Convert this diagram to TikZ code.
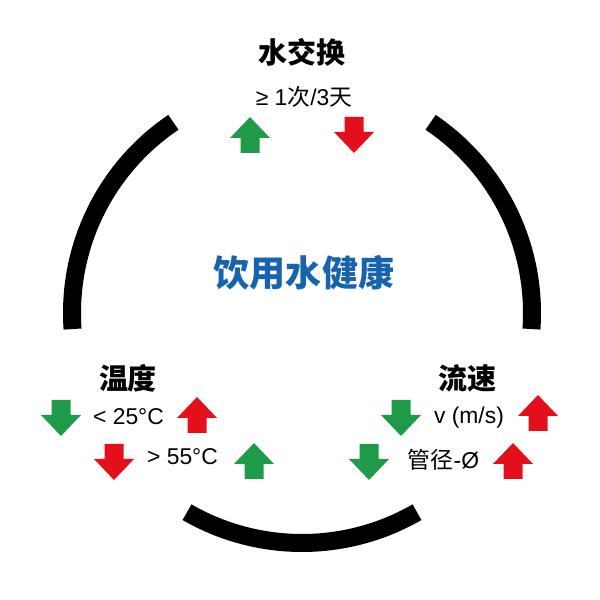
\documentclass[tikz,border=0pt]{standalone}
\usepackage{fontspec}
\setmainfont{Liberation Sans}
\newfontfamily\cjk{Noto Sans CJK SC}
\usepackage{tikz}
\definecolor{upgreen}{HTML}{1E9A48}
\definecolor{downred}{HTML}{E3101B}
\definecolor{titleblue}{HTML}{1763AE}

\begin{document}
\begin{tikzpicture}[
    ring/.style={black, line width=0.36cm},
    heading/.style={font=\cjk\bfseries\fontsize{16.5}{20}\selectfont},
    rule/.style={font=\fontsize{13}{16}\selectfont},
    bigtitle/.style={font=\cjk\bfseries\fontsize{20.5}{24}\selectfont, text=titleblue},
    blockup/.pic={
        \fill (0,0.36) -- (0.4,-0.06) -- (0.19,-0.06) -- (0.19,-0.36)
            -- (-0.19,-0.36) -- (-0.19,-0.06) -- (-0.4,-0.06) -- cycle;
    },
    blockdown/.pic={
        \fill (0,-0.36) -- (0.4,0.06) -- (0.19,0.06) -- (0.19,0.36)
            -- (-0.19,0.36) -- (-0.19,0.06) -- (-0.4,0.06) -- cycle;
    }
    ]

\useasboundingbox (0,0) rectangle (12,12);

\coordinate (c) at (6.04,5.74);

% the three pieces of the ring
\draw[ring] ([shift={(124:4.6)}]c) arc (124:184:4.6);
\draw[ring] ([shift={(240:4.6)}]c) arc (240:300:4.6);
\draw[ring] ([shift={(-4:4.6)}]c) arc (-4:56:4.6);

\node[bigtitle] (health) at (6.08,6.54) {饮用水健康};

% water exchange
\node[heading] (exchange) at (6.04,10.96) {水交换};
\node[rule] (exrule) at (6.08,10.06) {≥ 1{\cjk 次}/3{\cjk 天}};
\pic[upgreen] (exup) at (5.00,9.30) {blockup};
\pic[downred] (exdown) at (7.08,9.30) {blockdown};

% temperature
\node[heading] (temp) at (2.56,4.44) {温度};
\node[rule] (cold) at (2.57,3.66) {< 25°C};
\node[rule] (hot) at (3.65,2.86) {> 55°C};
\pic[upgreen] (colddown) at (1.22,3.64) {blockdown};
\pic[downred] (coldup) at (3.94,3.70) {blockup};
\pic[downred] (hotdown) at (2.28,2.76) {blockdown};
\pic[upgreen] (hotup) at (5.08,2.78) {blockup};

% flow
\node[heading] (flow) at (9.34,4.44) {流速};
\node[rule] (speed) at (9.38,3.64) {v (m/s)};
\node[rule] (pipe) at (8.87,2.80) {{\cjk 管径}-Ø};
\pic[upgreen] (speeddown) at (8.02,3.64) {blockdown};
\pic[downred] (speedup) at (10.76,3.74) {blockup};
\pic[upgreen] (pipedown) at (7.38,2.76) {blockdown};
\pic[downred] (pipeup) at (10.26,2.78) {blockup};

\end{tikzpicture}
\end{document}
